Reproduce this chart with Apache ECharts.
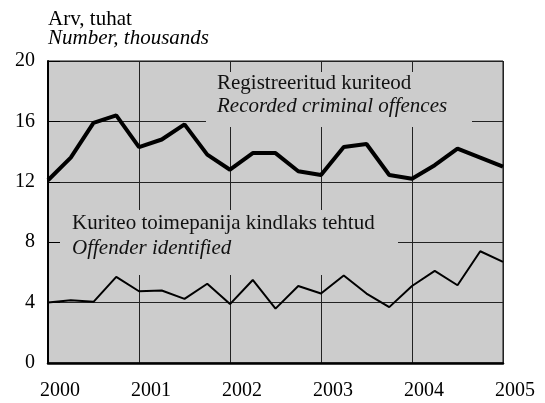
<!DOCTYPE html>
<html>
<head>
<meta charset="utf-8">
<script src="https://cdn.jsdelivr.net/npm/echarts@6/dist/echarts.min.js"></script>
<style>
  html, body { margin: 0; padding: 0; background: #fff; }
  #chart { width: 545px; height: 403px; }
</style>
</head>
<body>
<div id="chart"></div>
<script>
// kvartalid 2000 I ... 2005 I
const period = [2000, 2000.25, 2000.5, 2000.75, 2001, 2001.25, 2001.5, 2001.75,
    2002, 2002.25, 2002.5, 2002.75, 2003, 2003.25, 2003.5, 2003.75,
    2004, 2004.25, 2004.5, 2004.75, 2005]
const recorded = [12.1, 13.6, 15.9, 16.4, 14.3, 14.8, 15.8, 13.8,
    12.8, 13.9, 13.9, 12.7, 12.45, 14.3, 14.5, 12.45,
    12.2, 13.1, 14.2, 13.6, 13.0]
const identified = [4.0, 4.15, 4.05, 5.7, 4.75, 4.8, 4.25, 5.25,
    3.9, 5.5, 3.6, 5.1, 4.6, 5.8, 4.6, 3.7,
    5.1, 6.1, 5.15, 7.4, 6.7]
const yearTicks = [2000, 2001, 2002, 2003, 2004, 2005]

const font = '"Liberation Serif", "DejaVu Serif", serif'
const bg = '#cccccc'
const fs = 20   // telgede sildid
const ft = 21   // pealkirjad ja selgitused

const myChart = echarts.init(document.getElementById('chart'))
myChart.setOption({
    animation: false,
    textStyle: { fontFamily: font },
    grid: {
        left: 48, right: 42, top: 61, bottom: 40,
        show: true,
        backgroundColor: bg,
        borderColor: '#111',
        borderWidth: 1,
    },
    xAxis: {
        type: 'value',
        min: yearTicks[0],
        max: yearTicks[yearTicks.length - 1],
        interval: 1,
        axisLine: { lineStyle: { color: '#000', width: 2.5 } },
        axisTick: { show: false },
        splitLine: { show: true, lineStyle: { color: '#222', width: 1 } },
        axisLabel: {
            color: '#000', fontSize: fs, margin: 18, fontFamily: font,
            padding: [0, 0, 0, 24],
            formatter: v => String(v),
        },
    },
    yAxis: {
        type: 'value',
        min: 0, max: 20, interval: 4,
        axisLine: { show: true, lineStyle: { color: '#000', width: 2 } },
        axisTick: { show: true, inside: true, length: 12, lineStyle: { color: '#000' } },
        splitLine: { show: true, lineStyle: { color: '#222', width: 1 } },
        axisLabel: { color: '#000', fontSize: fs, margin: 13, fontFamily: font },
    },
    graphic: [
        {
            type: 'text', left: 48, top: 9,
            style: { text: 'Arv, tuhat', font: ft + 'px ' + font, fill: '#000' }
        },
        {
            type: 'text', left: 48, top: 28,
            style: { text: 'Number, thousands', font: 'italic ' + ft + 'px ' + font, fill: '#000' }
        },
        { type: 'rect', z: 2, shape: { x: 206, y: 72, width: 266, height: 55 }, style: { fill: bg } },
        { type: 'text', z: 2, x: 217, y: 73, style: { text: 'Registreeritud kuriteod', font: ft + 'px ' + font, fill: '#111' } },
        { type: 'text', z: 2, x: 217, y: 96, style: { text: 'Recorded criminal offences', font: 'italic ' + ft + 'px ' + font, fill: '#111' } },
        { type: 'rect', z: 2, shape: { x: 60, y: 210, width: 338, height: 65 }, style: { fill: bg } },
        { type: 'text', z: 2, x: 72, y: 213, style: { text: 'Kuriteo toimepanija kindlaks tehtud', font: ft + 'px ' + font, fill: '#111' } },
        { type: 'text', z: 2, x: 72, y: 238, style: { text: 'Offender identified', font: 'italic ' + ft + 'px ' + font, fill: '#111' } },
    ],
    series: [
        {
            name: 'Registreeritud kuriteod',
            type: 'line',
            symbol: 'none',
            z: 3,
            lineStyle: { color: '#000', width: 4 },
            data: period.map((p, i) => [p, recorded[i]]),
        },
        {
            name: 'Kuriteo toimepanija kindlaks tehtud',
            type: 'line',
            symbol: 'none',
            z: 3,
            lineStyle: { color: '#000', width: 2 },
            data: period.map((p, i) => [p, identified[i]]),
        },
    ]
})
window.addEventListener('resize', myChart.resize)
</script>
</body>
</html>
